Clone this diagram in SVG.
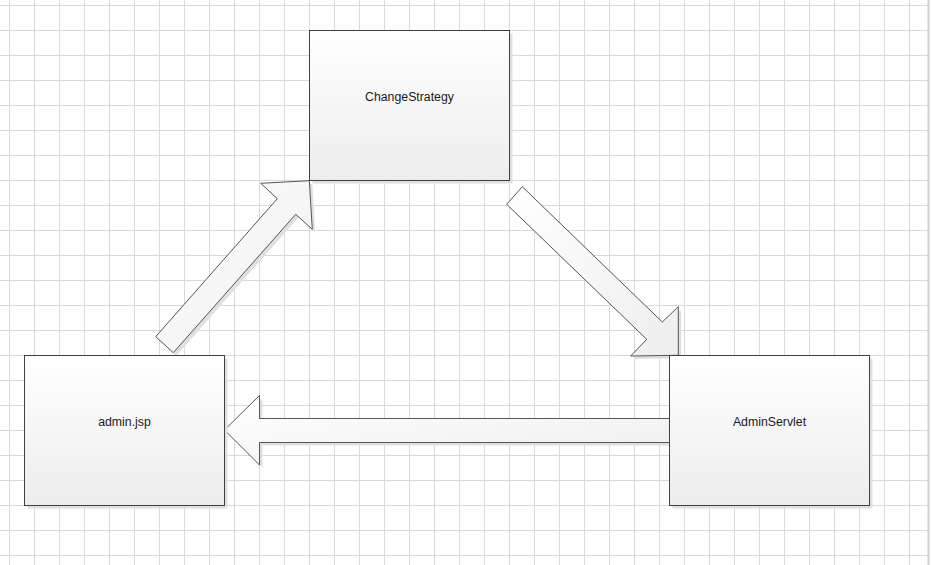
<svg xmlns="http://www.w3.org/2000/svg" width="932" height="565" viewBox="0 0 932 565">
<defs>
<pattern id="grid" x="9" y="5" width="25" height="25" patternUnits="userSpaceOnUse">
<path d="M0 0.5H25M0.5 0V25" fill="none" stroke="#d9d9d9" stroke-width="1"/>
</pattern>
<linearGradient id="boxfill" x1="0" y1="0" x2="0" y2="1">
<stop offset="0" stop-color="#ffffff"/>
<stop offset="1" stop-color="#ededed"/>
</linearGradient>
<linearGradient id="arrfill" x1="0" y1="0" x2="1" y2="1">
<stop offset="0" stop-color="#ffffff"/>
<stop offset="1" stop-color="#eeeeee"/>
</linearGradient>
</defs>
<style>
.box{fill:url(#boxfill);stroke:#404040;stroke-width:1}
.shadow{fill:#e0e0e0;stroke:none}
.arrow{fill:url(#arrfill);stroke:#555555;stroke-width:1;stroke-linejoin:miter}
.label{font-family:"Liberation Sans",Arial,sans-serif;font-size:12.3px;fill:#1a1a1a;text-anchor:middle}
</style>
<rect x="0" y="0" width="932" height="565" fill="#ffffff"/>
<rect x="0" y="0" width="928" height="565" fill="url(#grid)"/>
<line x1="928.5" y1="0" x2="928.5" y2="565" stroke="#cfcfcf" stroke-width="2"/>

<g id="connectors">
<g id="arrow-admin-to-change">
<polygon class="shadow" transform="translate(3,3)" points="309.3,180.7 260.7,183.3 277.3,198.7 155.7,336.7 173.3,352.7 295.7,214.3 312.3,229.3"/>
<polygon class="arrow" points="309.3,180.7 260.7,183.3 277.3,198.7 155.7,336.7 173.3,352.7 295.7,214.3 312.3,229.3"/>
</g>
<g id="arrow-change-to-servlet">
<polygon class="shadow" transform="translate(3,3)" points="522.3,186.7 506.7,204.3 646.7,339.3 630.7,356 678.3,355.3 678.3,306.7 662.3,322"/>
<polygon class="arrow" points="522.3,186.7 506.7,204.3 646.7,339.3 630.7,356 678.3,355.3 678.3,306.7 662.3,322"/>
</g>
<g id="arrow-servlet-to-admin">
<polygon class="shadow" transform="translate(3,3)" points="224.5,430 259.5,395.5 259.5,418.5 670,418.5 670,442.5 259.5,442.5 259.5,465"/>
<polygon class="arrow" points="224.5,430 259.5,395.5 259.5,418.5 670,418.5 670,442.5 259.5,442.5 259.5,465"/>
</g>
</g>

<g id="node-changestrategy">
<rect class="shadow" x="312.5" y="33.5" width="200" height="150"/>
<rect class="box" x="309.5" y="30.5" width="200" height="150"/>
<text class="label" x="409.5" y="101">ChangeStrategy</text>
</g>
<g id="node-adminjsp">
<rect class="shadow" x="27.5" y="358.5" width="200" height="150"/>
<rect class="box" x="24.5" y="355.5" width="200" height="150"/>
<text class="label" x="124.5" y="426">admin.jsp</text>
</g>
<g id="node-adminservlet">
<rect class="shadow" x="672.5" y="358.5" width="200" height="150"/>
<rect class="box" x="669.5" y="355.5" width="200" height="150"/>
<text class="label" x="769.5" y="426">AdminServlet</text>
</g>
</svg>
